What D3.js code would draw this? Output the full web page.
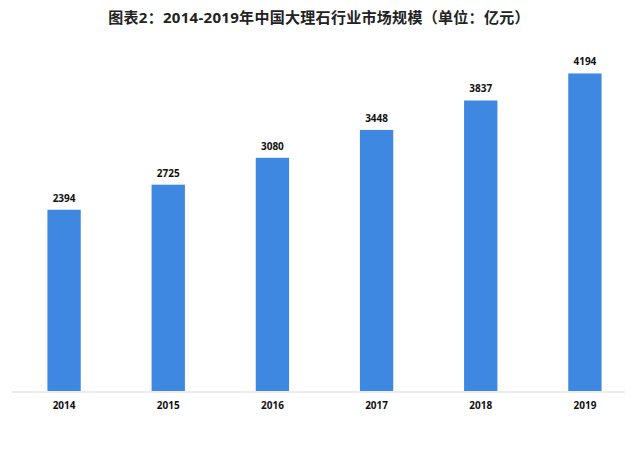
<!DOCTYPE html>
<html>
<head>
<meta charset="utf-8">
<script src="https://cdn.jsdelivr.net/npm/d3@7"></script>
<style>
  body { margin: 0; background: #fff; }
  text { font-family: "Open Sans", "Noto Sans CJK SC", sans-serif; }
</style>
</head>
<body>
<script>
// Values
const years = ['2014', '2015', '2016', '2017', '2018', '2019'];
const scale = [2394, 2725, 3080, 3448, 3837, 4194];
const title = '图表2：2014-2019年中国大理石行业市场规模（单位：亿元）';

const WIDTH = 640;
const HEIGHT = 460;
const BASE = 391; //bottom of the bars
const TOP = 73;

const svg = d3.select('body')
              .append('svg')
                .attr('width', WIDTH)
                .attr('height', HEIGHT);

const x = d3.scaleBand().domain(years).range([12, 637]).paddingInner(0.68).paddingOuter(0.34);
const y = d3.scaleLinear().domain([0, 4200]).range([BASE, TOP]);

svg.append('text')
    .attr('x', 319)
    .attr('y', 23)
    .attr('text-anchor', 'middle')
    .attr('font-family', '"Noto Sans CJK SC", sans-serif')
    .attr('font-size', '15px')
    .attr('font-weight', 'bold')
    .attr('letter-spacing', '0.3px')
    .attr('fill', '#222')
    .text(title);

// baseline
svg.append('line')
    .attr('x1', 12)
    .attr('x2', 625)
    .attr('y1', BASE + 1)
    .attr('y2', BASE + 1)
    .attr('stroke', '#d9d9d9')
    .attr('stroke-width', 1);

svg.selectAll('rect.bar')
    .data(scale)
    .enter()
    .append('rect')
      .attr('class', 'bar')
      .attr('x', (d, i) => x(years[i]))
      .attr('y', d => y(d))
      .attr('width', x.bandwidth())
      .attr('height', d => BASE - y(d))
      .attr('fill', '#3f88e2');

svg.selectAll('text.value')
    .data(scale)
    .enter()
    .append('text')
      .attr('class', 'value')
      .attr('x', (d, i) => x(years[i]) + x.bandwidth() / 2)
      .attr('y', d => y(d) - 8)
      .attr('text-anchor', 'middle')
      .attr('font-size', '10px')
      .attr('font-weight', 'bold')
      .attr('fill', '#111')
      .text(d => d);

const axis = d3.axisBottom(x).tickSize(0).tickPadding(10);
const g = svg.append('g')
    .attr('transform', 'translate(0,' + (BASE + 1) + ')')
    .call(axis);
g.select('.domain').remove();
g.selectAll('text')
    .attr('font-family', '"Open Sans", sans-serif')
    .attr('font-size', '10px')
    .attr('font-weight', 'bold')
    .attr('fill', '#111');
</script>
</body>
</html>
